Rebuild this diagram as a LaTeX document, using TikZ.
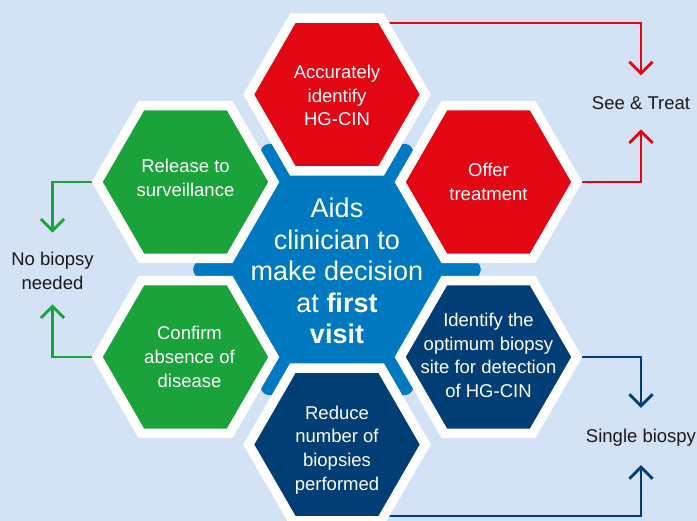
\documentclass[tikz,border=0pt]{standalone}
\usepackage{fontspec}
\setmainfont{Liberation Sans}
\usetikzlibrary{shapes.geometric,arrows.meta}
\definecolor{hexred}{RGB}{227,6,19}
\definecolor{hexgreen}{RGB}{26,163,59}
\definecolor{hexnavy}{RGB}{0,62,117}
\definecolor{hexblue}{RGB}{0,121,192}
\definecolor{paleblue}{RGB}{211,226,244}
\definecolor{inkgrey}{RGB}{26,26,26}
\pgfdeclarelayer{back}
\pgfsetlayers{back,main}

\begin{document}
\begin{tikzpicture}[x=1pt, y=-1pt,
	hexa/.style={regular polygon, regular polygon sides=6, minimum size=176.6pt, inner sep=0pt, outer sep=0pt, draw=white, line width=9.5pt},
	hextext/.style={text=white, align=center, inner sep=0pt, font=\fontsize{18.5}{23.8}\selectfont},
	sidetext/.style={text=inkgrey, align=center, inner sep=0pt, font=\fontsize{18.5}{23.8}\selectfont},
	flow/.style={line width=2.8pt, -{Straight Barb[angle=90:16.5pt]}}]
	\useasboundingbox (0,0) rectangle (697,521);
	\begin{pgfonlayer}{back}
		\fill[paleblue] (0,0) rectangle (697,521);
	\end{pgfonlayer}
	\node[regular polygon, regular polygon sides=6, minimum size=290pt, inner sep=0pt, fill=hexblue, rounded corners=4pt] (core) at (337,269.5) {};
	\node[hexa, fill=hexred]   (acc)     at (337,94.5)   {};
	\node[hexa, fill=hexred]   (offer)   at (488.5,182)  {};
	\node[hexa, fill=hexnavy]  (ident)   at (488.5,357)  {};
	\node[hexa, fill=hexnavy]  (reduce)  at (337,444.5)  {};
	\node[hexa, fill=hexgreen] (confirm) at (185.5,357)  {};
	\node[hexa, fill=hexgreen] (release) at (185.5,182)  {};
	\node[text=white, align=center, inner sep=0pt, font=\fontsize{27}{31.4}\selectfont] (aids) at (337,271) {Aids\\clinician to\\make decision\\at \textbf{first}\\\textbf{visit}};
	\node[hextext] (acctext)     at (337,95.5)    {Accurately\\identify\\HG-CIN};
	\node[hextext] (offertext)   at (488.5,181.7) {Offer\\treatment};
	\node[hextext] (identtext)   at (488.5,355.3) {Identify the\\optimum biopsy\\site for detection\\of HG-CIN};
	\node[hextext] (reducetext)  at (337,450)     {Reduce\\number of\\biopsies\\performed};
	\node[hextext] (confirmtext) at (189.5,356.7) {Confirm\\absence of\\disease};
	\node[hextext] (releasetext) at (185.5,177.7) {Release to\\surveillance};
	\node[sidetext, anchor=base] (see) at (641,110)   {See \& Treat};
	\node[sidetext]              (nob) at (52.5,270.5) {No biopsy\\needed};
	\node[sidetext, anchor=base] (sb)  at (641,442.7) {Single biospy};
	\begin{pgfonlayer}{back}
		\draw[flow, hexred, shorten >=21.5pt]   ([yshift=-5pt]acc.60) -| (see.north);
		\draw[flow, hexred, shorten >=19pt]     (offer.0) -| (see.south);
		\draw[flow, hexgreen, shorten >=18.9pt] (release.180) -| (nob.north);
		\draw[flow, hexgreen, shorten >=14.9pt] (confirm.180) -| (nob.south);
		\draw[flow, hexnavy, shorten >=21.2pt]  (ident.0) -| (sb.north);
		\draw[flow, hexnavy, shorten >=18.4pt]  ([yshift=5pt]reduce.-60) -| (sb.south);
	\end{pgfonlayer}
\end{tikzpicture}
\end{document}
